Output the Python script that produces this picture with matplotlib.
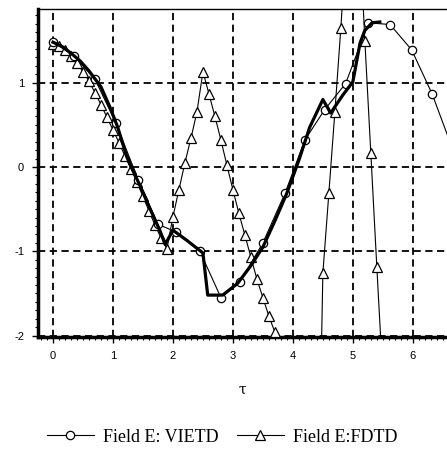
import numpy as np
import matplotlib
matplotlib.use('Agg')
import matplotlib.pyplot as plt
from matplotlib.ticker import MultipleLocator

plt.rcParams['axes.unicode_minus'] = False

# Field E, VIETD (circles)
tau_vietd = [0.0, 0.35, 0.7, 1.05, 1.42, 1.75, 2.05, 2.45, 2.8, 3.12, 3.5, 3.87,
             4.2, 4.53, 4.88, 5.26, 5.62, 5.98, 6.32, 6.66]
e_vietd = [1.48, 1.32, 1.04, 0.52, -0.15, -0.68, -0.77, -1.0, -1.55, -1.36, -0.9, -0.31,
           0.32, 0.68, 0.99, 1.71, 1.69, 1.39, 0.87, 0.22]

# Field E, FDTD (triangles)
tau_fdtd = [0.0, 0.1, 0.2, 0.3, 0.4, 0.5, 0.6, 0.7, 0.8, 0.9,
            1.0, 1.1, 1.2, 1.3, 1.4, 1.5, 1.6, 1.7, 1.8, 1.9,
            2.0, 2.1, 2.2, 2.3, 2.4, 2.5, 2.6, 2.7, 2.8, 2.9,
            3.0, 3.1, 3.2, 3.3, 3.4, 3.5, 3.6, 3.7, 3.8, 3.9,
            4.0, 4.1, 4.2, 4.3, 4.4, 4.5, 4.6, 4.7, 4.8, 4.9,
            5.0, 5.1, 5.2, 5.3, 5.4, 5.5, 5.6, 5.7, 5.8, 5.9,
            6.0, 6.1, 6.2, 6.3, 6.4, 6.5, 6.6]
e_fdtd = [1.46, 1.44, 1.39, 1.32, 1.23, 1.13, 1.02, 0.88, 0.74, 0.59,
          0.44, 0.29, 0.13, -0.02, -0.18, -0.35, -0.52, -0.69, -0.84, -0.97,
          -0.59, -0.27, 0.05, 0.34, 0.65, 1.13, 0.87, 0.60, 0.32, 0.02,
          -0.27, -0.55, -0.81, -1.07, -1.33, -1.55, -1.77, -1.96, -2.2, -2.6,
          -3.1, -3.8, -4.5, -5.2, -5.0, -1.26, -0.31, 0.65, 1.65, 2.8,
          3.6, 3.0, 1.50, 0.16, -1.19, -2.5, -3.8, -5.0, -6.0, -6.5,
          -6.8, -6.9, -6.8, -6.5, -6.0, -5.5, -5.0]

# thick reference curve (no legend entry)
tau_ref = [0.0, 0.15, 0.3, 0.45, 0.6, 0.8, 0.95, 1.08, 1.23, 1.31, 1.45, 1.62, 1.78,
           1.87, 2.0, 2.23, 2.5, 2.58, 2.83, 3.08, 3.3, 3.5, 3.7, 3.9, 4.1, 4.28,
           4.5, 4.63, 4.83, 5.0, 5.12, 5.2, 5.32, 5.45]
e_ref = [1.48, 1.43, 1.35, 1.26, 1.14, 0.95, 0.71, 0.47, 0.12, -0.01, -0.22, -0.5, -0.75,
         -0.92, -0.75, -0.87, -1.02, -1.52, -1.52, -1.38, -1.17, -0.95, -0.64, -0.31, 0.08, 0.47,
         0.80, 0.64, 0.85, 1.01, 1.47, 1.62, 1.71, 1.72]

fig = plt.figure(figsize=(4.47, 4.49), dpi=100)
ax = fig.add_axes([38/447, 1 - 337/449, 1 - 38/447, 328/449])

l_fdtd, = ax.plot(tau_fdtd, e_fdtd, color='black', linewidth=0.8, marker='^', markersize=7,
                  markerfacecolor='white', markeredgecolor='black', markeredgewidth=0.9, zorder=3)
l_vietd, = ax.plot(tau_vietd, e_vietd, color='black', linewidth=0.8, marker='o', markersize=6,
                   markerfacecolor='white', markeredgecolor='black', markeredgewidth=0.9, zorder=4)
ax.plot(tau_ref, e_ref, color='black', linewidth=2.3, zorder=5)

ax.set_xlim(-0.25, 6.57)
ax.set_ylim(-2.017, 1.874)

ax.xaxis.set_major_locator(MultipleLocator(1))
ax.xaxis.set_minor_locator(MultipleLocator(0.1))
ax.yaxis.set_major_locator(MultipleLocator(1))
ax.yaxis.set_minor_locator(MultipleLocator(0.1))
ax.tick_params(which='major', direction='out', length=4, width=1, labelsize=8, pad=6)
ax.tick_params(which='minor', direction='out', length=2.5, width=0.8)
for lab in ax.get_xticklabels() + ax.get_yticklabels():
    lab.set_family('Liberation Sans')

ax.grid(True, which='major', color='black', linestyle=(0, (4, 2.5)), linewidth=1.3)

ax.spines['left'].set_linewidth(2.5)
ax.spines['bottom'].set_linewidth(2.5)
ax.spines['top'].set_linewidth(1.0)
ax.spines['right'].set_visible(False)

ax.set_xlabel('τ', family='DejaVu Serif', fontsize=10, labelpad=16)

fig.legend([l_vietd, l_fdtd], ['Field E: VIETD', 'Field E:FDTD'], loc='center',
           bbox_to_anchor=(222/447, 1 - 437/449), ncol=2, frameon=False,
           handlelength=2.6, columnspacing=1.0, handletextpad=0.5,
           prop={'family': 'Liberation Serif', 'size': 13})

fig.savefig('out.png', dpi=100)
